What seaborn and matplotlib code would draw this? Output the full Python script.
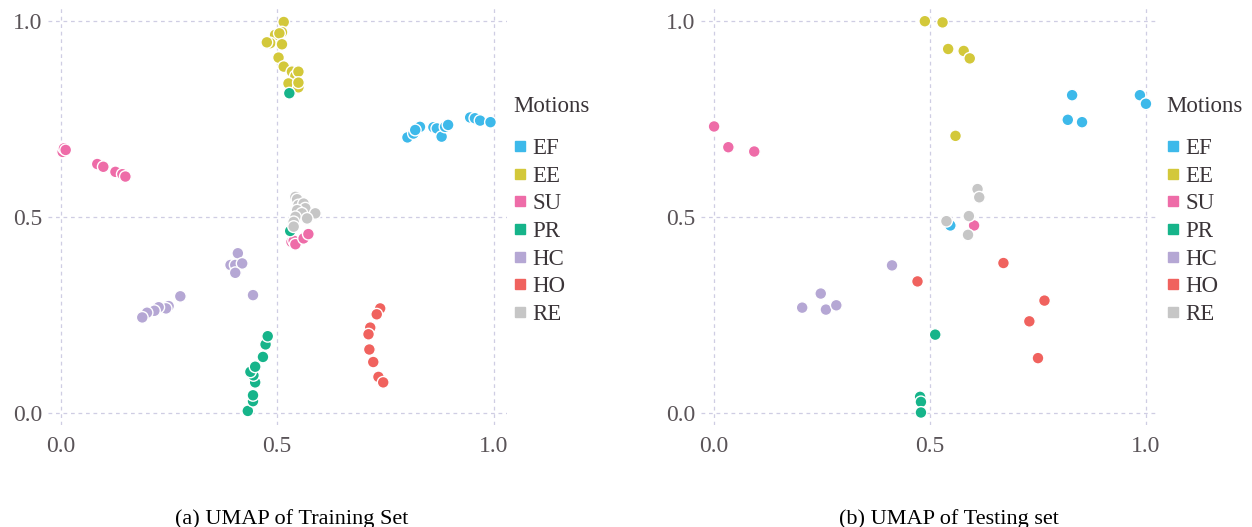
import numpy as np
import pandas as pd
import seaborn as sns
import matplotlib.pyplot as plt
from matplotlib.lines import Line2D

# motion classes and colours
motions = ['EF', 'EE', 'SU', 'PR', 'HC', 'HO', 'RE']
colors = ['#3DB9EA', '#D3C83A', '#EE6CA8', '#16B48A', '#B5A7D4', '#F0625E', '#C6C6C6']

# training set embedding
train_ef_x = [0.801, 0.815, 0.830, 0.819, 0.861, 0.869, 0.880, 0.888, 0.895, 0.946, 0.957, 0.969, 0.993]
train_ef_y = [0.703, 0.713, 0.730, 0.722, 0.729, 0.726, 0.705, 0.730, 0.735, 0.754, 0.752, 0.746, 0.742]
train_ee_x = [0.515, 0.511, 0.495, 0.505, 0.484, 0.511, 0.476, 0.503, 0.515, 0.534, 0.542, 0.549, 0.526, 0.549, 0.549]
train_ee_y = [0.998, 0.972, 0.965, 0.969, 0.944, 0.941, 0.946, 0.907, 0.884, 0.871, 0.860, 0.871, 0.841, 0.831, 0.843]
train_su_x = [0.004, 0.007, 0.011, 0.084, 0.098, 0.126, 0.142, 0.149, 0.533, 0.538, 0.542, 0.561, 0.572]
train_su_y = [0.666, 0.675, 0.671, 0.635, 0.628, 0.615, 0.609, 0.603, 0.436, 0.439, 0.430, 0.445, 0.456]
train_pr_x = [0.528, 0.530, 0.432, 0.444, 0.444, 0.449, 0.445, 0.438, 0.449, 0.467, 0.473, 0.478]
train_pr_y = [0.816, 0.464, 0.004, 0.029, 0.044, 0.077, 0.095, 0.104, 0.117, 0.142, 0.174, 0.195]
train_hc_x = [0.409, 0.392, 0.403, 0.419, 0.403, 0.444, 0.276, 0.249, 0.243, 0.226, 0.216, 0.199, 0.188]
train_hc_y = [0.407, 0.377, 0.377, 0.381, 0.357, 0.300, 0.297, 0.272, 0.266, 0.269, 0.260, 0.255, 0.243]
train_ho_x = [0.738, 0.730, 0.715, 0.711, 0.713, 0.722, 0.734, 0.745]
train_ho_y = [0.266, 0.251, 0.217, 0.200, 0.161, 0.129, 0.091, 0.077]
train_re_x = [0.542, 0.546, 0.549, 0.561, 0.565, 0.546, 0.588, 0.557, 0.542, 0.569, 0.538, 0.538]
train_re_y = [0.551, 0.545, 0.530, 0.534, 0.522, 0.517, 0.509, 0.509, 0.500, 0.496, 0.487, 0.475]

# testing set embedding
test_ef_x = [0.829, 0.819, 0.852, 0.986, 1.000, 0.547]
test_ef_y = [0.811, 0.748, 0.742, 0.811, 0.789, 0.478]
test_ee_x = [0.488, 0.529, 0.542, 0.578, 0.592, 0.559]
test_ee_y = [1.000, 0.997, 0.929, 0.924, 0.905, 0.707]
test_su_x = [0.000, 0.033, 0.093, 0.602]
test_su_y = [0.731, 0.678, 0.667, 0.478]
test_pr_x = [0.512, 0.477, 0.479, 0.479]
test_pr_y = [0.199, 0.040, 0.027, 0.000]
test_hc_x = [0.412, 0.247, 0.204, 0.259, 0.283]
test_hc_y = [0.376, 0.304, 0.268, 0.263, 0.274]
test_ho_x = [0.471, 0.670, 0.765, 0.730, 0.750]
test_ho_y = [0.335, 0.382, 0.286, 0.233, 0.139]
test_re_x = [0.610, 0.614, 0.590, 0.538, 0.588]
test_re_y = [0.571, 0.550, 0.502, 0.489, 0.454]


def to_frame(xs, ys):
    rows = []
    for m, x, y in zip(motions, xs, ys):
        for a, b in zip(x, y):
            rows.append((m, a, b))
    return pd.DataFrame(rows, columns=['Motions', 'x', 'y'])


train = to_frame([train_ef_x, train_ee_x, train_su_x, train_pr_x, train_hc_x, train_ho_x, train_re_x],
                 [train_ef_y, train_ee_y, train_su_y, train_pr_y, train_hc_y, train_ho_y, train_re_y])
test = to_frame([test_ef_x, test_ee_x, test_su_x, test_pr_x, test_hc_x, test_ho_x, test_re_x],
                [test_ef_y, test_ee_y, test_su_y, test_pr_y, test_hc_y, test_ho_y, test_re_y])

sns.set_style('white')
plt.rcParams['font.family'] = ['Liberation Serif', 'DejaVu Serif']
palette = dict(zip(motions, colors))
text_col = '#3A3438'

fig = plt.figure(figsize=(12.52, 5.27), dpi=100)
axes = [fig.add_axes([0.0383, 0.1935, 0.3666, 0.7915]),
        fig.add_axes([0.5600, 0.1935, 0.3660, 0.7915])]
captions = ['(a) UMAP of Training Set', '(b) UMAP of Testing set']
cap_x = [0.233, 0.758]
leg_x = [0.408, 0.9293]
title_x = [0.4097, 0.9313]

for ax, df, cap, cx, lx, tx in zip(axes, [train, test], captions, cap_x, leg_x, title_x):
    sns.scatterplot(data=df, x='x', y='y', hue='Motions', hue_order=motions, palette=palette,
                    s=72, edgecolor='white', linewidth=1.0, legend=False, ax=ax, zorder=3)
    ax.set_xlim(-0.03, 1.031)
    ax.set_ylim(-0.032, 1.034)
    ax.set_xticks([0.0, 0.5, 1.0])
    ax.set_yticks([0.0, 0.5, 1.0])
    ax.set_xticklabels(['0.0', '0.5', '1.0'])
    ax.set_yticklabels(['0.0', '0.5', '1.0'])
    ax.set_xlabel('')
    ax.set_ylabel('')
    ax.grid(True, color='#CFCDE3', linestyle=(0, (3, 3)), linewidth=0.9)
    ax.set_axisbelow(True)
    sns.despine(ax=ax, left=True, bottom=True)
    ax.tick_params(axis='both', length=0, labelsize=17, labelcolor='#5A5458')
    ax.tick_params(axis='x', pad=8)
    ax.tick_params(axis='y', pad=4.3)

    handles = [Line2D([], [], marker='s', linestyle='', color=c, markersize=6.5) for c in colors]
    leg = ax.legend(handles, motions, loc='center left',
                    bbox_to_anchor=(lx, 0.5607), bbox_transform=fig.transFigure,
                    frameon=False, fontsize=16.5, borderpad=0, borderaxespad=0,
                    handlelength=0.8, handletextpad=0.15, labelspacing=0.29)
    for t in leg.get_texts():
        t.set_color(text_col)
    fig.text(tx, 1 - 106 / 527, 'Motions', ha='left', va='center', fontsize=16.5, color=text_col)

    fig.text(cx, 0.016, cap, ha='center', va='center', fontsize=16, color='black')

fig.savefig('out.png', dpi=100)
